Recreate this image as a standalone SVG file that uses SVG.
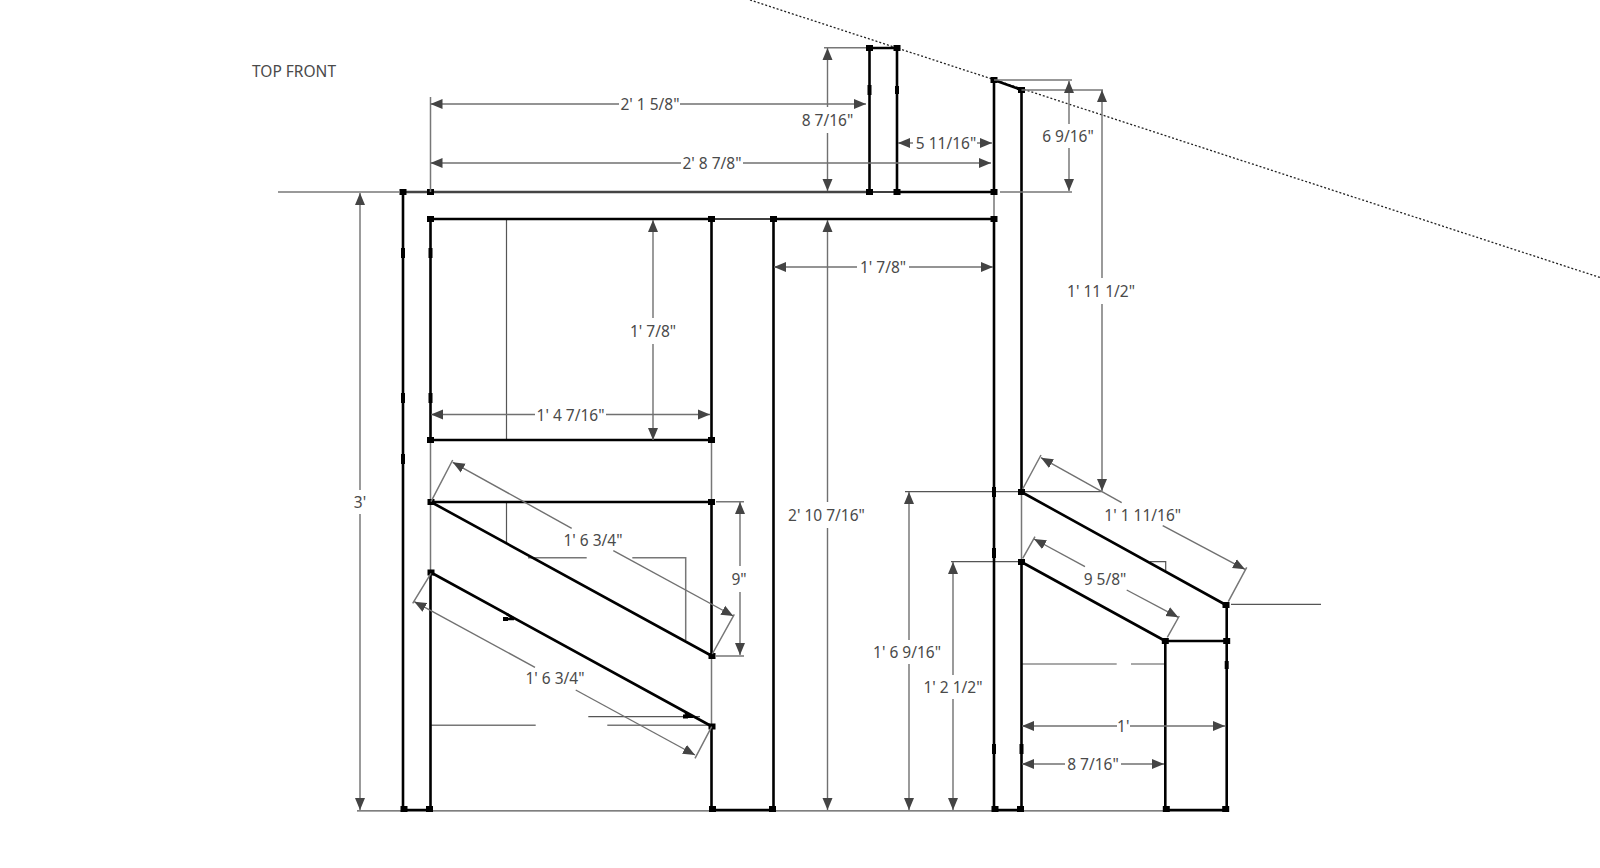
<svg xmlns="http://www.w3.org/2000/svg" width="1600" height="868" viewBox="0 0 1600 868">
<style>
.k{stroke:#000;stroke-width:2.6;fill:none}
.m{stroke:#444;stroke-width:2.6;fill:none}
.j{stroke:#000;stroke-width:1.4;fill:none}
.w{stroke:#000;stroke-width:4;fill:none}
.g{stroke:#777;stroke-width:1.5;fill:none}
.t{stroke:#555;stroke-width:1.2;fill:none}
.s{stroke:#707070;stroke-width:1.4;fill:none;marker-start:url(#a)}
.e{stroke:#707070;stroke-width:1.4;fill:none;marker-end:url(#a)}
.o{stroke:#222;stroke-width:1.3;stroke-dasharray:2 2;fill:none}
text{font-family:"Noto Sans","Open Sans","DejaVu Sans",sans-serif;font-size:15.5px;fill:#4a4a4a;text-anchor:middle;dominant-baseline:central}
</style>
<defs>
<marker id="a" markerUnits="userSpaceOnUse" markerWidth="13" markerHeight="11" refX="12" refY="5.500" orient="auto-start-reverse"><path d="M0 0.500L12 5.500L0 10.500Z" fill="#444"/></marker>
<rect id="p" x="-3.500" y="-3" width="7" height="6" fill="#000"/>
</defs>
<rect width="1600" height="868" fill="#fff"/>
<g id="roof"><line class="o" x1="750" y1="0" x2="1600" y2="277.500"/></g>
<g id="thin-lines">
<path class="t" d="M357 810.800H1228"/>
<path class="g" d="M278 192H399"/>
<path class="t" d="M506.500 219V440M506.500 502V543"/>
<path class="g" d="M430.500 440V572M711.500 440V502M711.500 656V726M994 192V219M1021.500 492V562"/>
<path class="g" d="M528 557.700H586.700M632.300 557.700H685.700V640"/>
<path class="g" d="M430 725.300H535.700M607.300 725.300H711.500"/>
<path class="t" d="M588.300 716.700H700"/>
<path class="t" d="M1150 561.700H1165.700V570.700"/>
<path class="t" d="M1021 664H1116.700M1131 664H1165"/>
<path class="t" d="M1231 604.300H1321M905 491.700H1101.700M951 561.700H1021"/>
</g>
<g id="structure">
<path class="k" d="M403 192V810M430.500 219V440M430.500 572V810M711.500 219V440M711.500 502V656M711.500 726V810M773.500 219V810M994 80V192M994 219V810M1021.500 90V492M1021.500 562V810M1165.300 641V810M1226.700 605V810"/>
<path class="m" d="M403 192H869"/>
<path class="k" d="M897 192H994M430.500 219H711.500M773.500 219H994M430.500 440H711.500M430.500 502H711.500M403 810H430.500M711.500 810H773.500M994 810H1021.500M1165.300 810H1226.700"/>
<path class="j" d="M711.500 219H773.500M869.500 192H897"/>
<path class="k" d="M869.500 48V192M897 48V192M869.500 48H897M994 80L1021.500 90"/>
<path class="k" d="M431 502L712 656M431 572.500L712 726.500M1021.500 492L1226 605M1021.500 562L1165.300 641M1165.300 641H1226.700"/>
<path class="k" d="M505 619H514M506.500 614L514 618.500M685 716.700H693M685 713L692 716.700"/>
<path class="w" d="M403 393V403M430.500 393V403M403 248V258M430.500 248V258M403 454V464M869.500 85V95M897 86V94M994 487V497M994 548V558M994 744V754M1021.500 744V754M1226.700 661V669"/>
</g>
<g id="points">
<use href="#p" x="403" y="192"/><use href="#p" x="430.500" y="192"/><use href="#p" x="430.500" y="219"/><use href="#p" x="711.500" y="219"/><use href="#p" x="773.500" y="219"/><use href="#p" x="994" y="219"/><use href="#p" x="994" y="192"/>
<use href="#p" x="869.500" y="48"/><use href="#p" x="897" y="48"/><use href="#p" x="869.500" y="192"/><use href="#p" x="897" y="192"/><use href="#p" x="994" y="80"/><use href="#p" x="1021.500" y="90"/>
<use href="#p" x="430.500" y="440"/><use href="#p" x="711.500" y="440"/><use href="#p" x="431" y="502"/><use href="#p" x="711.500" y="502"/><use href="#p" x="431" y="572.500"/><use href="#p" x="712" y="656"/><use href="#p" x="712" y="726.500"/>
<use href="#p" x="1021.500" y="492"/><use href="#p" x="1021.500" y="562"/><use href="#p" x="1226" y="605"/><use href="#p" x="1165.300" y="641"/><use href="#p" x="1226.700" y="641"/>
<use href="#p" x="404" y="809"/><use href="#p" x="429.500" y="809"/><use href="#p" x="712.500" y="809"/><use href="#p" x="772.500" y="809"/><use href="#p" x="995" y="809"/><use href="#p" x="1020.500" y="809"/><use href="#p" x="1166.300" y="809"/><use href="#p" x="1225.700" y="809"/>
<rect x="503" y="617" width="5" height="4" fill="#000"/><rect x="683" y="714.500" width="5" height="4" fill="#000"/>
</g>
<g id="connectors">
<path class="g" d="M430.500 97V192M824 47.700H866M994 80H1072M1000 192H1072M1021.500 90H1103M716 501.700H744M716 656H744"/>
<path class="s" d="M430.500 104H619"/><path class="e" d="M680 104H866"/>
<path class="s" d="M430.500 163H681"/><path class="e" d="M743 163H991"/>
<path class="s" d="M827.500 48V107"/><path class="e" d="M827.500 133V191"/>
<path class="s" d="M898 143H913"/><path class="e" d="M977 143H992"/>
<path class="s" d="M1069 81V124"/><path class="e" d="M1069 148V191"/>
<path class="s" d="M1102 90V278"/><path class="e" d="M1102 304V491"/>
<path class="s" d="M774 267H857"/><path class="e" d="M909 267H993"/>
<path class="s" d="M827.500 220V502"/><path class="e" d="M827.500 528V810"/>
<path class="s" d="M360 193V490"/><path class="e" d="M360 514V810"/>
<path class="s" d="M653 220V318"/><path class="e" d="M653 344V440"/>
<path class="s" d="M431 414.500H535"/><path class="e" d="M606 414.500H710"/>
<path class="s" d="M740 502V566"/><path class="e" d="M740 592V655"/>
<path class="s" d="M909 492V640"/><path class="e" d="M909 664V810"/>
<path class="s" d="M953 562V675"/><path class="e" d="M953 699V810"/>
<path class="s" d="M1022 726H1117"/><path class="e" d="M1130 726H1225"/>
<path class="s" d="M1022 764H1065"/><path class="e" d="M1121 764H1164"/>
<path class="g" d="M431 501.700L452.700 460M712.300 654L734.300 614.300M431 573.300L412.700 603.300M711.700 726.700L695 758.300M1022.700 489L1041 455M1228.300 601.700L1246.700 567.300M1022.700 558.300L1035 536.700M1167.300 637.300L1179.300 616"/>
<path class="s" d="M452.700 462.300L571.700 528.300"/><path class="e" d="M613.300 550.700L733.300 616"/>
<path class="s" d="M414.300 601.700L535 667.300"/><path class="e" d="M575.700 690L695 755"/>
<path class="s" d="M1041 457.700L1121.700 502.700"/><path class="e" d="M1162.700 525.700L1245 569.300"/>
<path class="s" d="M1034 539L1085 566.700"/><path class="e" d="M1126.700 590L1178.300 617.300"/>
</g>
<g id="labels">
<text x="294" y="71">TOP FRONT</text>
<text x="650" y="104">2' 1 5/8"</text>
<text x="712" y="163">2' 8 7/8"</text>
<text x="827.500" y="120">8 7/16"</text>
<text x="946" y="143">5 11/16"</text>
<text x="1068" y="136">6 9/16"</text>
<text x="1101" y="291">1' 11 1/2"</text>
<text x="883" y="267">1' 7/8"</text>
<text x="826.500" y="515">2' 10 7/16"</text>
<text x="360" y="502">3'</text>
<text x="653" y="331">1' 7/8"</text>
<text x="570.500" y="414.500">1' 4 7/16"</text>
<text x="593" y="540">1' 6 3/4"</text>
<text x="739" y="579">9"</text>
<text x="555" y="678.300">1' 6 3/4"</text>
<text x="907" y="652">1' 6 9/16"</text>
<text x="953" y="687">1' 2 1/2"</text>
<text x="1142.700" y="515">1' 1 11/16"</text>
<text x="1105" y="579">9 5/8"</text>
<text x="1123.300" y="726">1'</text>
<text x="1093" y="764">8 7/16"</text>
</g>
</svg>
